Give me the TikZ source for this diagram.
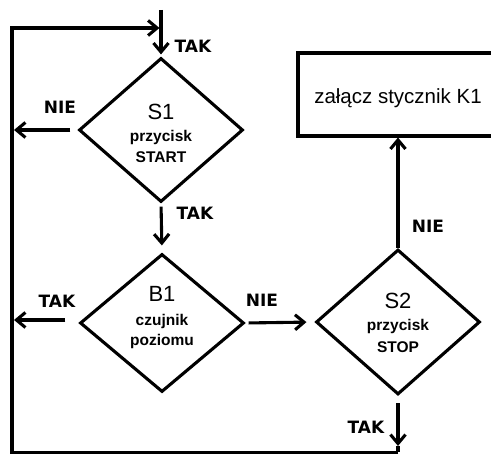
\documentclass[tikz,border=0pt]{standalone}
\usepackage{fontspec}
\setmainfont{Liberation Sans}
\newfontfamily\lblfont{DejaVu Sans}
\usetikzlibrary{shapes.geometric,arrows.meta}
\begin{document}
\begin{tikzpicture}[x=1pt,y=-1pt,line width=3.1pt,
  dec/.style={diamond,draw,inner sep=0pt,minimum width=164pt},
  arr/.style={-{Straight Barb[length=9pt,width=15pt]}},
  yn/.style={font=\lblfont\bfseries\fontsize{17}{17}\selectfont,inner sep=0pt},
  big/.style={font=\fontsize{22}{22}\selectfont,inner sep=0pt,anchor=base},
  small/.style={font=\bfseries\fontsize{15.5}{15.5}\selectfont,inner sep=0pt,anchor=base},
  boxtxt/.style={font=\fontsize{20.5}{20.5}\selectfont,inner sep=0pt,anchor=base}]
\useasboundingbox (0,0) rectangle (491,454);
\clip (0,0) rectangle (491,454);
% decisions
\node[dec,minimum height=144pt] (s1) at (161,130) {};
\node[dec,minimum height=138pt] (b1) at (162,323) {};
\node[dec,minimum height=145pt] (s2) at (398,322) {};
\node[draw,minimum width=200pt,minimum height=83pt,inner sep=0pt] (k1) at (398,94.5) {};
% texts
\node[big] (s1a) at (161,120) {S1};
\node[small] (s1b) at (161,142) {przycisk};
\node[small] (s1c) at (161,163) {START};
\node[big] (b1a) at (162,301.5) {B1};
\node[small] (b1b) at (162,326) {czujnik};
\node[small] (b1c) at (162,346) {poziomu};
\node[big] (s2a) at (398,308.5) {S2};
\node[small] (s2b) at (398,331) {przycisk};
\node[small] (s2c) at (398,352.5) {STOP};
\node[boxtxt] (k1t) at (398,103.5) {załącz stycznik K1};
% coordinates
\coordinate (top) at (161,10);
\coordinate (tl) at (12,28);
\coordinate (tj) at (161,28);
\coordinate (bl) at (12,452.5);
\coordinate (br) at (398,452.5);
\coordinate (s2e) at (398,446);
\coordinate (l1) at (12,130);
\coordinate (l2) at (12,320);
% connectors
\draw[arr,shorten >=2pt] (top) -- (s1.north);
\draw[arr,shorten >=1.5pt] (br) -- (bl) -- (tl) -- (tj);
\draw[arr,shorten <=7pt,shorten >=2pt] (s1.west) -- (l1);
\draw[arr,shorten <=13pt,shorten >=2pt] (b1.west |- l2) -- (l2);
\draw[arr,shorten <=3pt,shorten >=8pt] (b1.east) -- (s2.west);
\draw[arr,shorten <=3pt,shorten >=7pt] (s1.south) -- (b1.north);
\draw[arr] (s2.north) -- (k1.south);
\draw[arr,shorten <=7pt] (s2.south) -- (s2e);
\draw (s2e) -- (br);
% labels
\node[yn] (t1) at (193,46) {TAK};
\node[yn] (n1) at (60,107) {NIE};
\node[yn] (t2) at (195,213) {TAK};
\node[yn] (t3) at (57,301) {TAK};
\node[yn] (n2) at (262,300) {NIE};
\node[yn] (n3) at (428,226) {NIE};
\node[yn] (t4) at (366,427) {TAK};
\end{tikzpicture}
\end{document}
